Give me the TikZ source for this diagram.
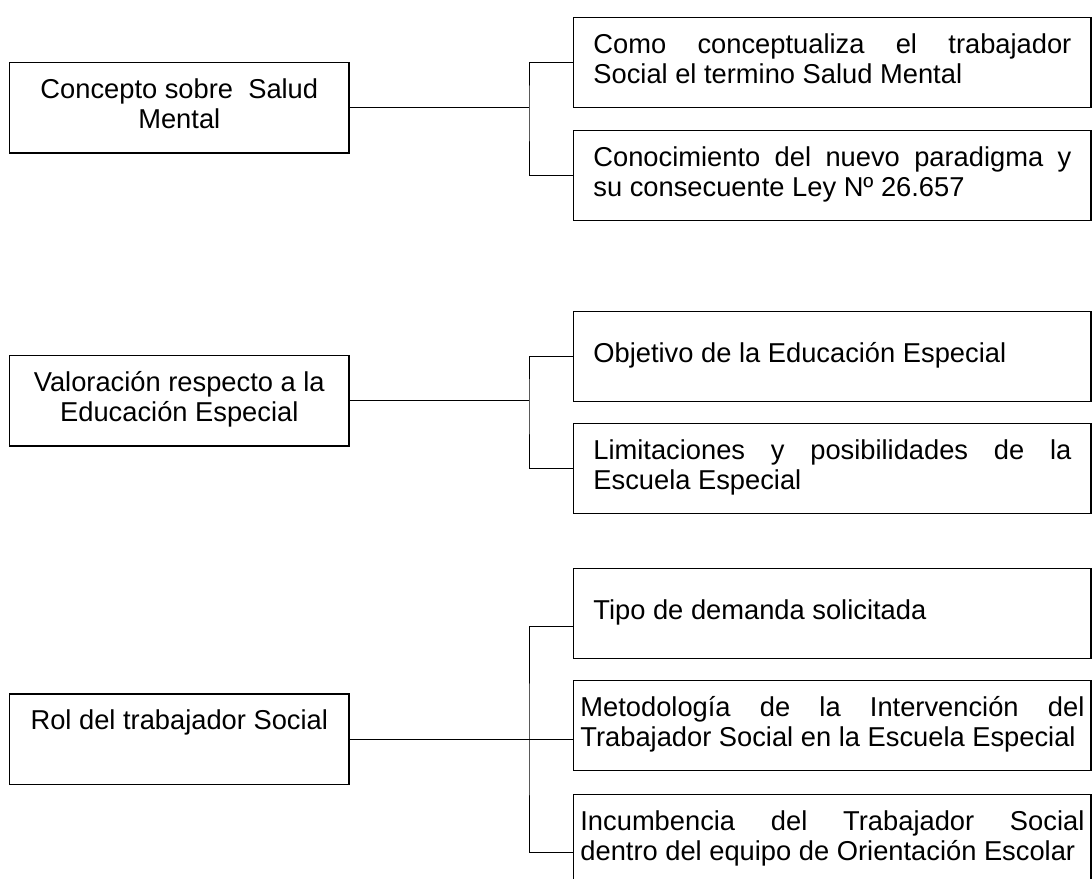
\documentclass[tikz,border=0pt]{standalone}
\usepackage{fontspec}
\setmainfont{Liberation Sans}
\usepackage{tikz}
\tolerance=10000
\hbadness=10000
\hyphenpenalty=10000
\exhyphenpenalty=10000
\tikzstyle{tema} = [rectangle, draw=black, line width=1.3pt, minimum width=339.4pt, minimum height=90.5pt, align=center, inner sep=0pt]
\tikzstyle{item} = [rectangle, draw=black, line width=1.3pt, minimum width=517.3pt, minimum height=90pt, text width=478pt, inner xsep=19.65pt, align=justify]
\tikzstyle{itemwide} = [item, text width=504pt, inner xsep=6.65pt]
\tikzstyle{link} = [draw=black, line width=1pt, line join=miter]

\begin{document}
\begin{tikzpicture}[
    x=1pt, y=-1pt,
    font=\fontsize{27.3}{30}\selectfont,
    every node/.append style={execute at begin node=\strut, execute at end node=\strut}
]
\useasboundingbox (0,0) rectangle (1092,878);

% Temas
\node[tema] (concepto) at (179.3,107.7) {Concepto sobre\ \ Salud\\Mental};
\node[tema] (valoracion) at (179.3,400.8) {Valoración respecto a la\\Educación Especial};
\node[tema] (rol) at (179.3,739.3) {Rol del trabajador Social\\\strut};

% Subtemas
\node[item] (como) at (832.4,62.3) {Como conceptualiza el trabajador\linebreak Social el termino Salud Mental};
\node[item] (conocimiento) at (832.4,175.7) {Conocimiento del nuevo paradigma y\linebreak su consecuente Ley Nº 26.657};

\node[item] (objetivo) at (832.4,356.3) {Objetivo de la Educación Especial};
\node[item] (limitaciones) at (832.4,468.3) {Limitaciones y posibilidades de la\linebreak Escuela Especial};

\node[item] (tipo) at (832.4,613.5) {Tipo de demanda solicitada};
\node[itemwide] (metodologia) at (832.4,725.8) {Metodología de la Intervención del\linebreak Trabajador Social en la Escuela Especial};
\node[itemwide] (incumbencia) at (832.4,839.3) {Incumbencia del Trabajador Social\linebreak dentro del equipo de Orientación Escolar};

% Conectores
\coordinate (j1) at (529,107.7);
\coordinate (j2) at (529,400.8);
\coordinate (j3) at (529,739.3);

\draw[link] (concepto.east) -- (j1);
\draw[link] (como.west) -| (j1) |- (conocimiento.west);

\draw[link] (valoracion.east) -- (j2);
\draw[link] (objetivo.west) -| (j2) |- (limitaciones.west);

\draw[link] (rol.east) -- ([yshift=-13.5pt]metodologia.west);
\draw[link] ([yshift=-13.2pt]tipo.west) -| (j3) |- ([yshift=-13.4pt]incumbencia.west);

\end{tikzpicture}
\end{document}
